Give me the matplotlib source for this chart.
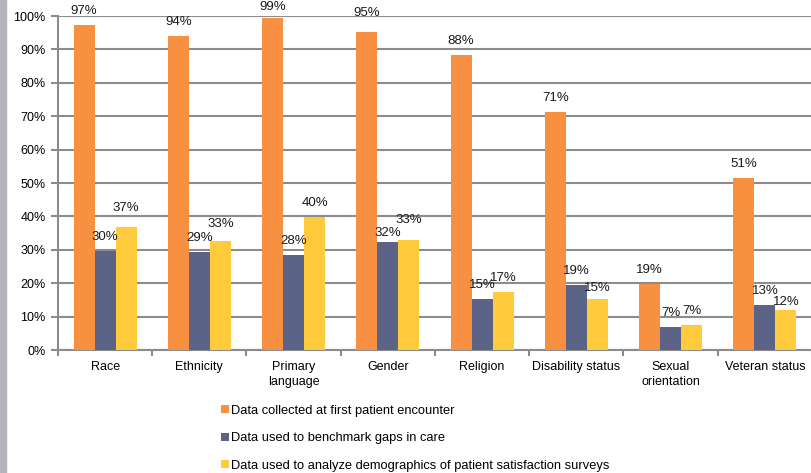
import matplotlib

matplotlib.use("Agg")
import matplotlib.pyplot as plt  # noqa: E402
import numpy as np  # noqa: E402
from matplotlib.patches import Rectangle  # noqa: E402

categories = ["Race", "Ethnicity", "Primary\nlanguage", "Gender", "Religion",
              "Disability status", "Sexual\norientation", "Veteran status"]
first_encounter = [97.4, 94.0, 99.3, 95.1, 88.4, 71.2, 19.8, 51.5]
benchmark_gaps = [29.6, 29.3, 28.4, 32.2, 15.2, 19.4, 6.9, 13.4]
satisfaction = [36.8, 32.6, 39.8, 32.9, 17.3, 15.2, 7.4, 12.0]
label_first = [97, 94, 99, 95, 88, 71, 19, 51]
label_gaps = [30, 29, 28, 32, 15, 19, 7, 13]
label_sat = [37, 33, 40, 33, 17, 15, 7, 12]
series_names = ["Data collected at first patient encounter",
                "Data used to benchmark gaps in care",
                "Data used to analyze demographics of patient satisfaction surveys"]
colors = ["#F79141", "#5B6386", "#FFCA3C"]

# extra vertical shift (pixels) for a few hand-placed data labels
label_nudge = {(0, 2): -3, (0, 3): 5, (1, 3): -5, (2, 0): 5, (2, 1): 3,
               (2, 3): 6, (2, 5): -3, (2, 7): -6}

plt.rcParams["font.family"] = ["Liberation Sans", "DejaVu Sans"]

fig = plt.figure(figsize=(8.12, 4.73), dpi=100)
ax = fig.add_axes([0.0714, 0.26, 0.9286, 0.706])

x = np.arange(len(categories))
w = 0.223
series = [first_encounter, benchmark_gaps, satisfaction]
labels = [label_first, label_gaps, label_sat]
for i, (vals, labs, c, name) in enumerate(zip(series, labels, colors, series_names)):
    pos = x + (i - 1) * w
    ax.bar(pos, vals, width=w, color=c, label=name, zorder=3)
    for j, (p, v, lab) in enumerate(zip(pos, vals, labs)):
        dy = (14 + label_nudge.get((i, j), 0)) * 72 / 100
        ax.annotate(f"{lab}%", (p, v), xytext=(0, dy), textcoords="offset points",
                    ha="center", va="center", fontsize=9.5, color="#1a1a1a",
                    zorder=4, annotation_clip=False)

ax.set_xlim(-0.5, len(categories) - 0.5)
ax.set_ylim(0, 100)
ax.set_yticks(np.arange(0, 101, 10))
ax.set_yticklabels([f"{t}%" for t in range(0, 101, 10)], fontsize=9)
ax.set_xticks(x)
ax.set_xticklabels(categories, fontsize=9, linespacing=1.35)
ax.tick_params(axis="x", length=0, pad=8)
ax.set_xticks(np.arange(-0.5, len(categories)), minor=True)
ax.tick_params(axis="x", which="minor", length=4, color="#8c8c8c", width=1.5)
ax.tick_params(axis="y", length=5, color="#8c8c8c", width=1.5, pad=4)
ax.yaxis.grid(True, color="#8c8c8c", linewidth=1.5, zorder=0)
for s in ["top", "right"]:
    ax.spines[s].set_visible(False)
for s in ["left", "bottom"]:
    ax.spines[s].set_color("#8c8c8c")
    ax.spines[s].set_linewidth(1.5)

fig.legend(loc="upper left", bbox_to_anchor=(0.272, 0.144), frameon=False,
           fontsize=9.3, handlelength=0.6, handleheight=0.6, handletextpad=0.15,
           labelspacing=1.2, borderaxespad=0, borderpad=0)

fig.patches.append(Rectangle((0, 0), 6 / 812, 1, transform=fig.transFigure,
                             color="#b4b4bc", zorder=0))

fig.savefig("out.png", dpi=100)
plt.close(fig)
